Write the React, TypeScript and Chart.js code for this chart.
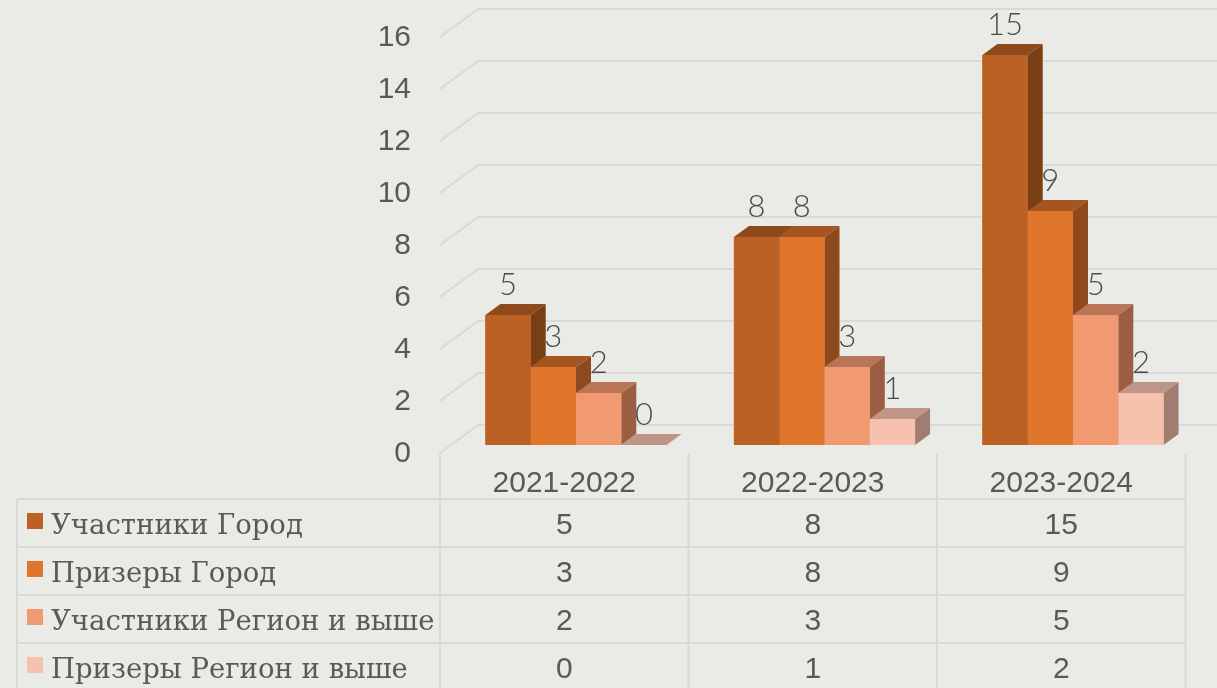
import { useEffect, useRef } from 'react';
import { Chart, registerables } from 'chart.js';

Chart.register(...registerables);

const categories = ['2021-2022', '2022-2023', '2023-2024'];
const seriesNames = ['Участники Город', 'Призеры Город', 'Участники Регион и выше', 'Призеры Регион и выше'];
const uchastnikiGorod = [5, 8, 15];
const prizeryGorod = [3, 8, 9];
const uchastnikiRegion = [2, 3, 5];
const prizeryRegion = [0, 1, 2];
const yMin = 0;
const yMax = 16;
const yStep = 2;

const frontColors = ['#BB6124', '#E0752C', '#F19A72', '#F6C2AE'];
const topColors = ['#8F4A1C', '#A5551F', '#BA7558', '#BE9586'];
const sideColors = ['#7A3E14', '#8E4A1E', '#9B5E43', '#9F7D71'];

const BG = '#EAEAE6';
const LINE = '#D9D9D9';
const TEXT = '#595959';

const W = 1217;
const H = 688;
// 3D geometry
const DX = 15; // bar depth x
const DY = 11; // bar depth y
const FRONT_X = 11.75; // front plane offset from bar plane
const FRONT_Y = 8;
const BACK_X = 26.25; // back wall offset from bar plane
const BACK_Y = 20;

const SANS = '"Liberation Sans", Arial, sans-serif';

const threeD = {
  id: 'threeD',
  beforeDraw(chart: any) {
    const { ctx } = chart;
    ctx.save();
    ctx.fillStyle = BG;
    ctx.fillRect(0, 0, chart.width, chart.height);
    ctx.restore();
  },
  beforeDatasetsDraw(chart: any) {
    const { ctx, chartArea } = chart;
    const ys = chart.scales.y;
    ctx.save();
    ctx.strokeStyle = LINE;
    ctx.lineWidth = 2;
    ys.ticks.forEach((t: any) => {
      const y = ys.getPixelForValue(t.value);
      ctx.beginPath();
      ctx.moveTo(chartArea.left - FRONT_X, y + FRONT_Y);
      ctx.lineTo(chartArea.left + BACK_X, y - BACK_Y);
      ctx.lineTo(chart.width, y - BACK_Y);
      ctx.stroke();
    });
    ctx.restore();
  },
  afterDatasetsDraw(chart: any) {
    const { ctx } = chart;
    ctx.save();
    chart.data.datasets.forEach((ds: any, di: number) => {
      const meta = chart.getDatasetMeta(di);
      meta.data.forEach((el: any) => {
        const { x, y, base, width } = el.getProps(['x', 'y', 'base', 'width'], true);
        const l = x - width / 2;
        const r = x + width / 2;
        // side
        ctx.fillStyle = sideColors[di];
        ctx.beginPath();
        ctx.moveTo(r, y);
        ctx.lineTo(r + DX, y - DY);
        ctx.lineTo(r + DX, base - DY);
        ctx.lineTo(r, base);
        ctx.closePath();
        ctx.fill();
        // top
        ctx.fillStyle = topColors[di];
        ctx.beginPath();
        ctx.moveTo(l, y);
        ctx.lineTo(l + DX, y - DY);
        ctx.lineTo(r + DX, y - DY);
        ctx.lineTo(r, y);
        ctx.closePath();
        ctx.fill();
        // front
        ctx.fillStyle = frontColors[di];
        ctx.fillRect(l, y, r - l, base - y);
      });
    });
    // data labels
    ctx.fillStyle = '#4A4A4A';
    ctx.font = '300 31px Lato, "Open Sans", sans-serif';
    ctx.textAlign = 'center';
    ctx.textBaseline = 'alphabetic';
    chart.data.datasets.forEach((ds: any, di: number) => {
      const meta = chart.getDatasetMeta(di);
      meta.data.forEach((el: any, i: number) => {
        const { x, y } = el.getProps(['x', 'y'], true);
        ctx.fillText(String(ds.data[i]), x, y - 20);
      });
    });
    ctx.restore();
  },
  afterDraw(chart: any) {
    const { ctx, chartArea } = chart;
    const xs = chart.scales.x;
    const n = categories.length;
    const catW = (chartArea.right - chartArea.left) / n;
    const colEdges: number[] = [];
    for (let i = 0; i <= n; i++) colEdges.push(chartArea.left + i * catW - FRONT_X);
    const headerTop = chartArea.bottom + FRONT_Y + 1;
    const rowTop = 499;
    const rowH = 48;
    const tableLeft = 17;
    ctx.save();
    ctx.strokeStyle = LINE;
    ctx.lineWidth = 2;
    // vertical lines
    colEdges.forEach((cx) => {
      ctx.beginPath();
      ctx.moveTo(cx, headerTop);
      ctx.lineTo(cx, chart.height);
      ctx.stroke();
    });
    ctx.beginPath();
    ctx.moveTo(tableLeft, rowTop);
    ctx.lineTo(tableLeft, chart.height);
    ctx.stroke();
    // horizontal lines
    for (let r = 0; r < seriesNames.length; r++) {
      const y = rowTop + r * rowH;
      ctx.beginPath();
      ctx.moveTo(tableLeft, y);
      ctx.lineTo(colEdges[n], y);
      ctx.stroke();
    }
    // category labels
    ctx.fillStyle = TEXT;
    ctx.font = `30px ${SANS}`;
    ctx.textAlign = 'center';
    ctx.textBaseline = 'alphabetic';
    categories.forEach((c, i) => {
      const cx = xs.getPixelForValue(i) - FRONT_X;
      ctx.fillText(c, cx, 492);
    });
    // rows
    chart.data.datasets.forEach((ds: any, di: number) => {
      const top = rowTop + di * rowH;
      ctx.fillStyle = frontColors[di];
      ctx.fillRect(27, top + 14, 16, 16);
      ctx.fillStyle = TEXT;
      ctx.font = '27.5px "DejaVu Serif", serif';
      ctx.textAlign = 'left';
      ctx.fillText(ds.label, 51, top + 35);
      ctx.font = `30px ${SANS}`;
      ctx.textAlign = 'center';
      ds.data.forEach((v: number, i: number) => {
        const cx = xs.getPixelForValue(i) - FRONT_X;
        ctx.fillText(String(v), cx, top + 35);
      });
    });
    ctx.restore();
  },
};

export default function App() {
  const ref = useRef<HTMLCanvasElement | null>(null);
  useEffect(() => {
    if (!ref.current) return;
    const series = [uchastnikiGorod, prizeryGorod, uchastnikiRegion, prizeryRegion];
    const chart = new Chart(ref.current, {
      type: 'bar',
      data: {
        labels: categories,
        datasets: series.map((d, i) => ({
          label: seriesNames[i],
          data: d,
          backgroundColor: frontColors[i],
          borderWidth: 0,
          barPercentage: 1,
          categoryPercentage: 0.729,
        })),
      },
      options: {
        animation: false,
        responsive: false,
        devicePixelRatio: 1,
        layout: { padding: { left: 0, right: 19.75, top: 29, bottom: 243 } },
        plugins: { legend: { display: false }, tooltip: { enabled: false }, title: { display: false } },
        scales: {
          x: { display: false, offset: true },
          y: {
            min: yMin,
            max: yMax,
            ticks: {
              stepSize: yStep,
              padding: 40.75,
              labelOffset: 9,
              color: TEXT,
              font: { family: SANS, size: 30 },
            },
            grid: { display: false, drawTicks: false },
            border: { display: false },
            afterFit: (s: any) => {
              s.width = 451.75;
              s.paddingTop = 0;
              s.paddingBottom = 0;
            },
          },
        },
      },
      plugins: [threeD],
    });
    return () => chart.destroy();
  }, []);
  return (
    <div style={{ position: 'absolute', left: 0, top: 0, width: W, height: H, background: BG }}>
      <canvas ref={ref} width={W} height={H} style={{ display: 'block' }} />
    </div>
  );
}
